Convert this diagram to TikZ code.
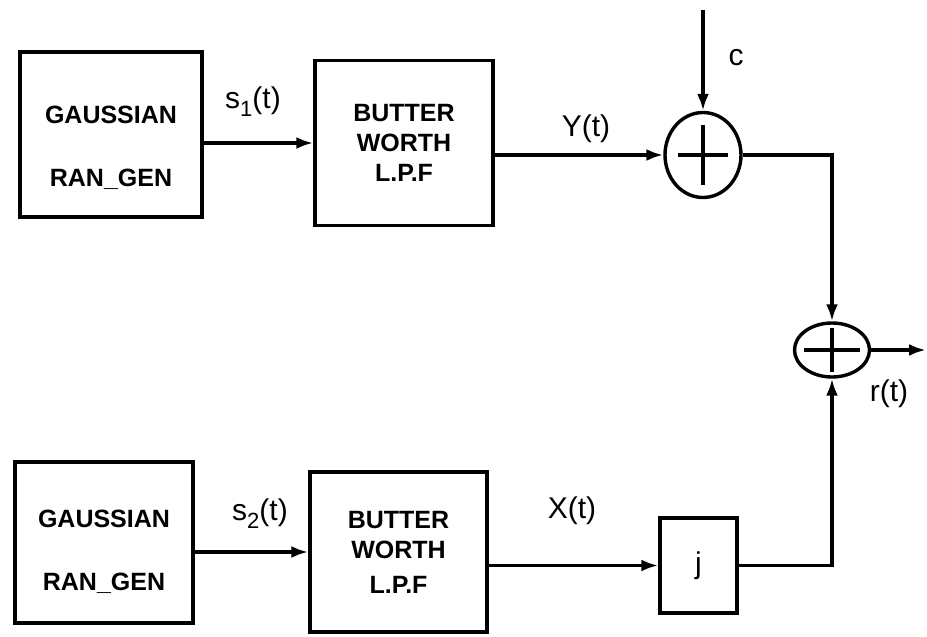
\documentclass[tikz,border=0pt]{standalone}
\usepackage{fontspec}
\setmainfont{Liberation Sans}
\usetikzlibrary{arrows.meta,shapes.geometric}

\tikzset{
    blok/.style={draw, line width=1.7pt, align=center, inner sep=0pt,
        font=\fontsize{12.5}{15}\selectfont\bfseries},
    scitacka/.style={draw, ellipse, line width=1.7pt, inner sep=0pt},
    signal/.style={font=\fontsize{15}{18}\selectfont},
    sipka/.style={-{Latex[length=8.5pt,width=6pt]}, line width=1.7pt},
}
\newcommand{\idx}[1]{\raisebox{-4pt}{\fontsize{11}{11}\selectfont #1}}

\begin{document}
\begin{tikzpicture}[x=0.5pt, y=-0.5pt]
        \useasboundingbox (0,0) rectangle (927,637);

        % horni vetev
        \node[blok, minimum width=91pt, minimum height=82.5pt] (gauss1) at (111,134.5)
            {\rule{0pt}{22pt}GAUSSIAN\\[16.5pt]RAN\_GEN};
        \node[blok, minimum width=89pt, minimum height=82.5pt] (lpf1) at (404,143)
            {BUTTER\\WORTH\\L.P.F};
        \node[scitacka, minimum width=38pt, minimum height=42.5pt] (sum1) at (703,155) {};

        % dolni vetev
        \node[blok, minimum width=89pt, minimum height=80.5pt] (gauss2) at (104,542.5)
            {\rule{0pt}{18pt}GAUSSIAN\\[16.5pt]RAN\_GEN};
        \node[blok, minimum width=88.5pt, minimum height=80pt] (lpf2) at (398.5,552)
            {BUTTER\\WORTH\\[2.5pt]L.P.F};
        \node[blok, signal, minimum width=38.5pt, minimum height=47.5pt] (jbox) at (698.5,565.5) {j};

        % vystupni scitacka
        \node[scitacka, minimum width=37.5pt, minimum height=27pt] (sum2) at (832,350) {};

        % krizky ve scitackach
        \draw[line width=1.7pt] (sum1.center) +(-25,0) -- +(25,0);
        \draw[line width=1.7pt] (sum1.center) +(0,-30) -- +(0,30);
        \draw[line width=1.7pt] (sum2.center) +(-28,0) -- +(28,0);
        \draw[line width=1.7pt] (sum2.center) +(0,-22) -- +(0,22);

        % volne konce
        \coordinate (cin) at (sum1.north |- 0,10);
        \coordinate (rout) at (926,350);

        % spoje
        \draw[sipka] (gauss1.east |- lpf1.west) -- (lpf1.west);
        \draw[sipka] (lpf1.east |- sum1.west) -- (sum1.west);
        \draw[sipka] (cin) -- (sum1.north);
        \draw[sipka] (sum1.east) -| (sum2.north);
        \draw[sipka] (gauss2.east |- lpf2.west) -- (lpf2.west);
        \draw[sipka] (lpf2.east |- jbox.west) -- (jbox.west);
        \draw[sipka] (jbox.east) -| (sum2.south);
        \draw[sipka] (sum2.east) -- (rout);

        % popisky signalu
        \node[signal] (ls1) at (253,102) {s\idx{1}(t)};
        \node[signal] (ly) at (586,129) {Y(t)};
        \node[signal] (lc) at (736,58) {c};
        \node[signal] (lr) at (889,394) {r(t)};
        \node[signal] (ls2) at (260,514) {s\idx{2}(t)};
        \node[signal] (lx) at (572,511) {X(t)};

    \end{tikzpicture}
\end{document}
